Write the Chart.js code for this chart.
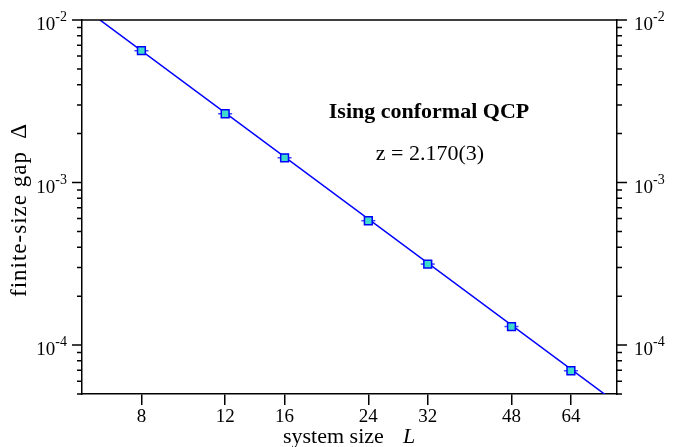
<!DOCTYPE html>
<html><head><meta charset="utf-8">
<script src="https://cdn.jsdelivr.net/npm/chart.js@4"></script>
<style>html,body{margin:0;padding:0;background:#fff}#wrap{width:676px;height:447px}</style>
</head><body><div id="wrap"><canvas id="c" width="676" height="447"></canvas></div>
<script>
// ---- data ----
const systemSizes = [8, 12, 16, 24, 32, 48, 64];
const gapValues = [6.47e-3, 2.65e-3, 1.42e-3, 5.82e-4, 3.15e-4, 1.30e-4, 6.95e-5];
const fitSizes = [6, 80];
const fitGap = [1.208e-2, 4.38e-5];
const xTickValues = [8, 12, 16, 24, 32, 48, 64];
const yMajorValues = [1e-4, 1e-3, 1e-2];
const yMajorExponents = ['-4', '-3', '-2'];
const yMinorValues = [5e-5, 6e-5, 7e-5, 8e-5, 9e-5,
  2e-4, 3e-4, 4e-4, 5e-4, 6e-4, 7e-4, 8e-4, 9e-4,
  2e-3, 3e-3, 4e-3, 5e-3, 6e-3, 7e-3, 8e-3, 9e-3];
const titleText = 'Ising conformal QCP';
const fitText = 'z = 2.170(3)';
const xTitleText = 'system size';
const xTitleVar = 'L';
const yTitleText = 'finite-size gap';
const yTitleVar = 'Δ';

const SERIF = '"Liberation Serif", "Times New Roman", serif';
const points = systemSizes.map((L, i) => ({x: L, y: gapValues[i]}));
const fitPoints = fitSizes.map((L, i) => ({x: L, y: fitGap[i]}));

function drawYAxisDecor(ctx, scale, side) {
  const xAxis = side === 'left' ? scale.right : scale.left;
  const dir = side === 'left' ? -1 : 1;
  ctx.save();
  ctx.strokeStyle = '#000';
  ctx.lineWidth = 1.5;
  ctx.beginPath();
  yMinorValues.forEach(v => {
    const y = scale.getPixelForValue(v);
    ctx.moveTo(xAxis, y); ctx.lineTo(xAxis + dir * 5, y);
  });
  yMajorValues.forEach(v => {
    const y = scale.getPixelForValue(v);
    ctx.moveTo(xAxis, y); ctx.lineTo(xAxis + dir * 10, y);
  });
  ctx.stroke();
  ctx.fillStyle = '#000';
  ctx.textBaseline = 'alphabetic';
  ctx.textAlign = 'left';
  yMajorValues.forEach((v, i) => {
    const y = scale.getPixelForValue(v);
    ctx.font = '19px ' + SERIF;
    const wBase = ctx.measureText('10').width;
    ctx.font = '14px ' + SERIF;
    const wExp = ctx.measureText(yMajorExponents[i]).width;
    const x0 = side === 'left' ? xAxis - 15 - wBase - wExp : xAxis + 17;
    ctx.font = '19px ' + SERIF;
    ctx.fillText('10', x0, y + 10);
    ctx.font = '14px ' + SERIF;
    ctx.fillText(yMajorExponents[i], x0 + wBase, y + 1);
  });
  ctx.restore();
}

const decor = {
  id: 'decor',
  afterDraw(chart) {
    const ctx = chart.ctx;
    const a = chart.chartArea;
    ctx.save();
    ctx.strokeStyle = '#000';
    ctx.lineWidth = 1.5;
    ctx.beginPath();
    ctx.moveTo(a.left, a.top); ctx.lineTo(a.right, a.top);
    ctx.stroke();
    ctx.restore();
    drawYAxisDecor(ctx, chart.scales.y, 'left');
    drawYAxisDecor(ctx, chart.scales.y2, 'right');

    ctx.save();
    ctx.fillStyle = '#000';
    ctx.textBaseline = 'alphabetic';
    ctx.textAlign = 'center';
    ctx.font = 'bold 22px ' + SERIF;
    ctx.fillText(titleText, 429, 118);
    ctx.font = '22px ' + SERIF;
    ctx.fillText(fitText, 430, 160);
    ctx.textAlign = 'left';
    ctx.font = '22px ' + SERIF;
    ctx.fillText(xTitleText, 283, 443);
    ctx.font = 'italic 22px ' + SERIF;
    ctx.fillText(xTitleVar, 403, 443);
    ctx.translate(26, 297);
    ctx.rotate(-Math.PI / 2);
    ctx.font = '23px ' + SERIF;
    try { ctx.letterSpacing = '1px'; } catch (e) {}
    ctx.fillText(yTitleText, 0, 0);
    try { ctx.letterSpacing = '0px'; } catch (e) {}
    const w = ctx.measureText(yTitleVar).width;
    ctx.fillText(yTitleVar, 297 - 124 - w, 0);
    ctx.restore();
  }
};

new Chart(document.getElementById('c'), {
  type: 'scatter',
  data: {
    datasets: [
      {
        label: 'data',
        data: points,
        pointStyle: 'rect',
        pointRadius: 5.5,
        pointHoverRadius: 5.5,
        backgroundColor: '#3fdccb',
        borderColor: '#0000ff',
        borderWidth: 1.5,
        showLine: false,
        order: 0
      },
      {
        label: 'errorbars',
        data: points,
        pointStyle: 'line',
        pointRadius: 7,
        pointHoverRadius: 7,
        borderColor: '#3a46ff',
        borderWidth: 1.5,
        showLine: false,
        order: 1
      },
      {
        type: 'line',
        label: 'fit',
        data: fitPoints,
        borderColor: '#0000ff',
        borderWidth: 1.5,
        pointRadius: 0,
        showLine: true,
        fill: false,
        order: 2
      }
    ]
  },
  options: {
    responsive: false,
    animation: false,
    devicePixelRatio: 1,
    layout: {padding: {top: 20, left: 0, right: 0, bottom: 0}},
    plugins: {legend: {display: false}, tooltip: {enabled: false}},
    scales: {
      x: {
        type: 'logarithmic', position: 'bottom', min: 6, max: 80,
        afterBuildTicks: s => { s.ticks = xTickValues.map(v => ({value: v})); },
        afterFit: s => { s.height = 53; },
        ticks: {callback: v => String(v), font: {family: SERIF, size: 19}, color: '#000', padding: 1, maxRotation: 0, autoSkip: false},
        grid: {display: true, drawOnChartArea: false, drawTicks: true, tickLength: 11, color: '#000', lineWidth: 1.5},
        border: {display: true, color: '#000', width: 1.5}
      },
      y: {
        type: 'logarithmic', position: 'left', min: 5e-5, max: 1e-2,
        afterBuildTicks: s => { s.ticks = yMinorValues.concat(yMajorValues).sort((p, q) => p - q).map(v => ({value: v})); },
        afterFit: s => { s.width = 82; },
        ticks: {display: false},
        grid: {display: false},
        border: {display: true, color: '#000', width: 1.5}
      },
      y2: {
        type: 'logarithmic', position: 'right', min: 5e-5, max: 1e-2,
        afterBuildTicks: s => { s.ticks = yMinorValues.concat(yMajorValues).sort((p, q) => p - q).map(v => ({value: v})); },
        afterFit: s => { s.width = 59; },
        ticks: {display: false},
        grid: {display: false},
        border: {display: true, color: '#000', width: 1.5}
      }
    }
  },
  plugins: [decor]
});
</script>
</body></html>
